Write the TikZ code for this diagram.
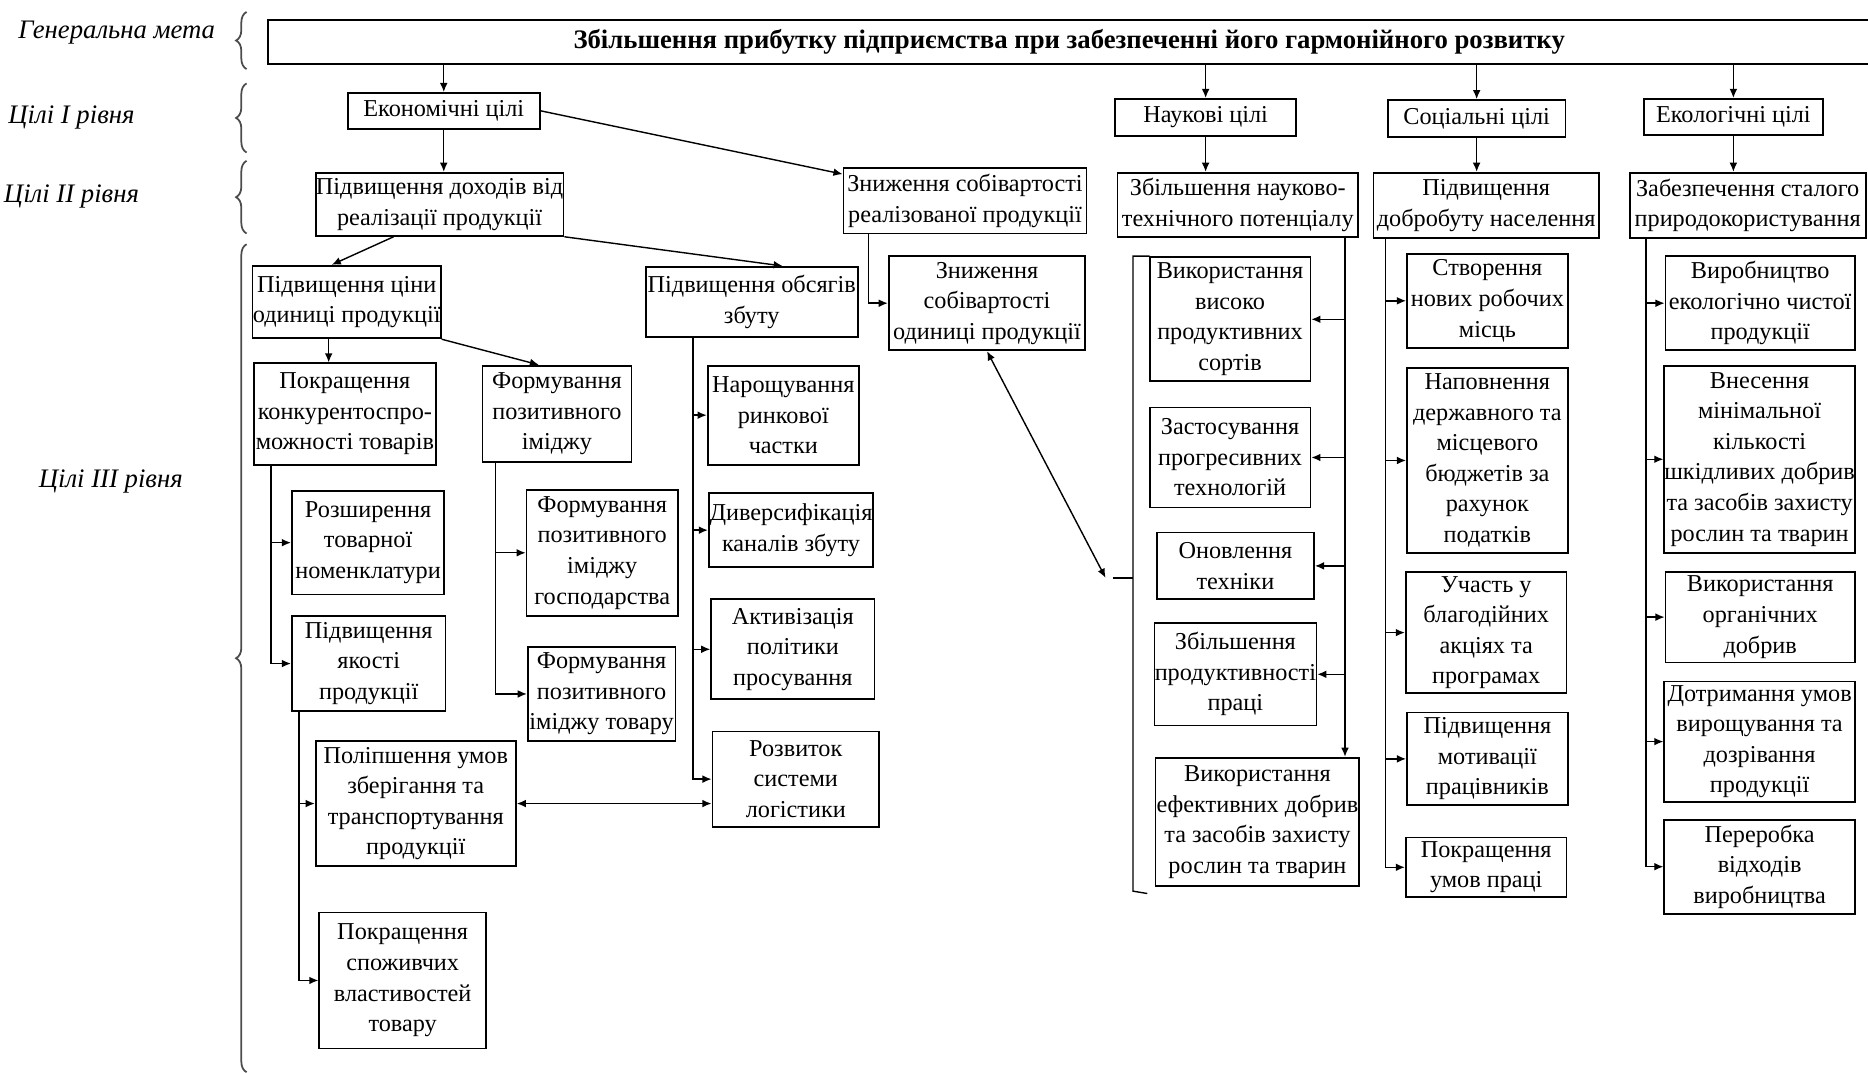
\documentclass[tikz,border=0pt]{standalone}
\usepackage{fontspec}
\setmainfont{Liberation Serif}
\usetikzlibrary{arrows.meta,decorations.pathreplacing,fit}

\begin{document}
\begin{tikzpicture}[x=0.11913mm,y=-0.11913mm,>={Latex[length=2.6pt,width=2.2pt]},
  box/.style={draw,line width=0.5pt,inner sep=0pt},
  txt/.style={inner sep=0pt,align=center,font=\fontsize{6.9}{8.7}\selectfont},
  lvl/.style={font=\fontsize{7.6}{9}\selectfont\itshape},
  lnk/.style={line width=0.4pt},
  brc/.style={decorate,decoration={brace,amplitude=3pt},gray!60!black,line width=0.5pt}]
  \useasboundingbox (0,0) rectangle (1568,900);

  % levels on the left
  \node[lvl] (lg) at (98,27) {Генеральна мета};
  \node[lvl] (l1) at (60,99) {Цілі I рівня};
  \node[lvl] (l2) at (60,165) {Цілі II рівня};
  \node[lvl] (l3) at (93,404) {Цілі III рівня};
  \draw[brc] (207,58) -- (207,10);
  \draw[brc] (207,128) -- (207,70);
  \draw[brc] (207,196) -- (207,135);
  \draw[brc] (207,900) -- (207,205);

  % general goal and level I
  \node[box,fit={(225,17) (1570,54)},label={[txt,font=\fontsize{7.6}{9}\selectfont\bfseries]center:Збільшення прибутку підприємства при забезпеченні його гармонійного розвитку}] (top) {};
  \node[box,fit={(292,78) (453,108)},label={[txt]center:Економічні цілі}] (eco) {};
  \node[box,fit={(936,83) (1088,114)},label={[txt]center:Наукові цілі}] (nauk) {};
  \node[box,fit={(1165,84) (1314,115)},label={[txt]center:Соціальні цілі}] (soc) {};
  \node[box,fit={(1380,83) (1530,113)},label={[txt]center:Екологічні цілі}] (ekol) {};
  \foreach \n in {eco,nauk,soc,ekol}
    \draw[lnk,->] (top.south -| \n.north) -- (\n.north);

  % level II
  \node[box,fit={(265,145) (473,198)},label={[txt]center:Підвищення доходів від\\реалізації продукції}] (pdr) {};
  \node[box,fit={(708,141) (912,196)},label={[txt]center:Зниження собівартості\\реалізованої продукції}] (zsr) {};
  \node[box,fit={(938,145) (1140,199)},label={[txt]center:Збільшення науково-\\технічного потенціалу}] (zn) {};
  \node[box,fit={(1153,145) (1342,200)},label={[txt]center:Підвищення\\добробуту населення}] (pd) {};
  \node[box,fit={(1368,145) (1566,200)},label={[txt]center:Забезпечення сталого\\природокористування}] (zs) {};
  \draw[lnk,->] (eco.south) -- (eco.south |- pdr.north);
  \draw[lnk,->] (eco.east) -- ([yshift=-0.7mm]zsr.north west);
  \foreach \a/\b in {nauk/zn,soc/pd,ekol/zs}
    \draw[lnk,->] (\a.south) -- (\a.south |- \b.north);

  % level III, economic goals
  \node[box,fit={(212,223) (370,284)},label={[txt]center:Підвищення ціни\\одиниці продукції}] (pc) {};
  \node[box,fit={(542,224) (720,283)},label={[txt]center:Підвищення обсягів\\збуту}] (po) {};
  \node[box,fit={(746,215) (911,294)},label={[txt]center:Зниження\\собівартості\\одиниці продукції}] (zso) {};
  \draw[lnk,->] ([xshift=-4.6mm]pdr.south) -- ([xshift=-1.5mm]pc.north);
  \draw[lnk,->] (pdr.south east) -- ([xshift=3.1mm]po.north);
  \draw[lnk,->] ([xshift=2.6mm]zsr.south west) |- (zso.west);

  \node[box,fit={(213,305) (366,390)},label={[txt]center:Покращення\\конкурентоспро-\\можності товарів}] (pk) {};
  \node[box,fit={(405,307) (530,388)},label={[txt]center:Формування\\позитивного\\іміджу}] (fi) {};
  \draw[lnk,->] ([xshift=-1.8mm]pc.south) -- ([xshift=-1.8mm]pc.south |- pk.north);
  \draw[lnk,->] (pc.south east) -- ([xshift=-1.8mm]fi.north);

  \node[box,fit={(245,412) (373,499)},label={[txt]center:Розширення\\товарної\\номенклатури}] (rt) {};
  \node[box,fit={(245,517) (374,597)},label={[txt]center:Підвищення\\якості\\продукції}] (pya) {};
  \node[box,fit={(265,622) (433,727)},label={[txt]center:Поліпшення умов\\зберігання та\\транспортування\\продукції}] (pu) {};
  \node[box,fit={(268,766) (408,880)},label={[txt]center:Покращення\\споживчих\\властивостей\\товару}] (ps) {};
  \node[box,fit={(442,411) (569,517)},label={[txt]center:Формування\\позитивного\\іміджу\\господарства}] (fg) {};
  \node[box,fit={(443,543) (567,622)},label={[txt]center:Формування\\позитивного\\іміджу товару}] (ft) {};
  \node[box,fit={(594,307) (721,390)},label={[txt]center:Нарощування\\ринкової\\частки}] (nr) {};
  \node[box,fit={(595,414) (733,476)},label={[txt]center:Диверсифікація\\каналів збуту}] (dv) {};
  \node[box,fit={(597,503) (734,587)},label={[txt]center:Активізація\\політики\\просування}] (ak) {};
  \node[box,fit={(598,614) (738,694)},label={[txt]center:Розвиток\\системи\\логістики}] (rl) {};

  \foreach \n in {rt,pya}
    \draw[lnk,->] ([xshift=1.8mm]pk.south west) |- (\n.west);
  \foreach \n in {pu,ps}
    \draw[lnk,->] ([xshift=0.8mm]pya.south west) |- (\n.west);
  \foreach \n in {fg,ft}
    \draw[lnk,->] ([xshift=1.4mm]fi.south west) |- (\n.west);
  \foreach \n in {nr,dv,ak,rl}
    \draw[lnk,->] ([xshift=4.8mm]po.south west) |- (\n.west);
  \draw[lnk,<->] (pu.east) -- (pu.east -| rl.west);

  % level III, scientific goals
  \node[box,fit={(965,216) (1100,320)},label={[txt]center:Використання\\високо\\продуктивних\\сортів}] (vs) {};
  \node[box,fit={(965,342) (1100,426)},label={[txt]center:Застосування\\прогресивних\\технологій}] (zt) {};
  \node[box,fit={(971,447) (1103,503)},label={[txt]center:Оновлення\\техніки}] (ot) {};
  \node[box,fit={(969,523) (1105,609)},label={[txt]center:Збільшення\\продуктивності\\праці}] (zp) {};
  \node[box,fit={(970,636) (1141,744)},label={[txt]center:Використання\\ефективних добрив\\та засобів захисту\\рослин та тварин}] (ve) {};
  \coordinate (nt) at ([xshift=-1.4mm]zn.south east);
  \draw[lnk,->] (nt) -- (nt |- ve.north);
  \foreach \n in {vs,zt,ot,zp}
    \draw[lnk,->] (nt |- \n.east) -- (\n.east);
  \draw[lnk] (965,215) -- (951,215) -- (951,748) -- (963,750);
  \coordinate (br) at (951,485);
  \coordinate (dd) at (928,485);
  \draw[lnk,<->] (zso.south) -- (dd);
  \draw[lnk] ([xshift=-2mm]br) -- (br);

  % level III, social goals
  \node[box,fit={(1181,213) (1316,292)},label={[txt]center:Створення\\нових робочих\\місць}] (sr) {};
  \node[box,fit={(1181,309) (1316,464)},label={[txt]center:Наповнення\\державного та\\місцевого\\бюджетів за\\рахунок\\податків}] (nb) {};
  \node[box,fit={(1180,480) (1315,582)},label={[txt]center:Участь у\\благодійних\\акціях та\\програмах}] (ub) {};
  \node[box,fit={(1181,598) (1316,676)},label={[txt]center:Підвищення\\мотивації\\працівників}] (pm) {};
  \node[box,fit={(1180,703) (1315,753)},label={[txt]center:Покращення\\умов праці}] (pup) {};
  \coordinate (st) at ([xshift=1.3mm]pd.south west);
  \foreach \n in {sr,nb,ub,pm,pup}
    \draw[lnk,->] (st) |- (\n.west);

  % level III, ecological goals
  \node[box,fit={(1398,215) (1557,294)},label={[txt]center:Виробництво\\екологічно чистої\\продукції}] (vch) {};
  \node[box,fit={(1397,307) (1557,464)},label={[txt]center:Внесення\\мінімальної\\кількості\\шкідливих добрив\\та засобів захисту\\рослин та тварин}] (vm) {};
  \node[box,fit={(1398,480) (1557,556)},label={[txt]center:Використання\\органічних\\добрив}] (vo) {};
  \node[box,fit={(1397,572) (1557,673)},label={[txt]center:Дотримання умов\\вирощування та\\дозрівання\\продукції}] (du) {};
  \node[box,fit={(1397,688) (1557,767)},label={[txt]center:Переробка\\відходів\\виробництва}] (pv) {};
  \coordinate (et) at ([xshift=1.7mm]zs.south west);
  \foreach \n in {vch,vm,vo,du,pv}
    \draw[lnk,->] (et) |- (\n.west);
\end{tikzpicture}
\end{document}
